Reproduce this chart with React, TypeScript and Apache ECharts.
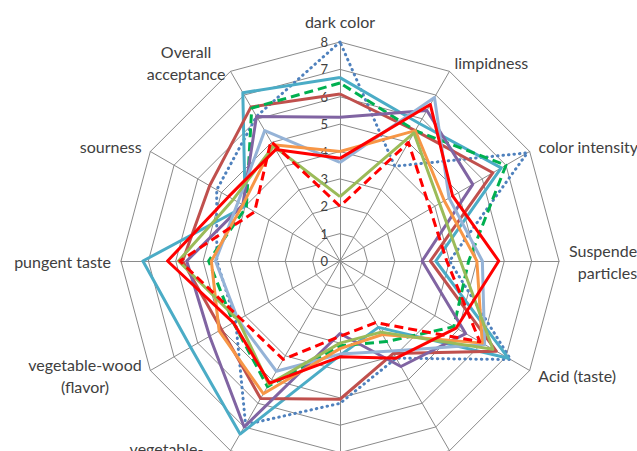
import React, { useEffect, useRef } from "react";
import * as echarts from "echarts";

// Axis names, clockwise from the top (the two bottom names are outside the picture)
const axisNames = [
  "dark color",
  "limpidness",
  "color intensity",
  "Suspended\nparticles",
  "Acid (taste)",
  "",
  "",
  "vegetable-",
  "vegetable-wood\n(flavor)",
  "pungent taste",
  "sourness",
  "Overall\nacceptance",
];

const tickLabels = ["0", "1", "2", "3", "4", "5", "6", "7", "8"];

// Series values, clockwise order matching axisNames
const sampleA = [8.0, 4.0, 7.9, 4.0, 7.2, 4.1, 5.2, 6.9, 4.4, 4.5, 5.2, 6.1]; // blue dotted
const sampleB = [6.7, 5.8, 6.8, 3.5, 7.1, 2.8, 3.45, 7.3, 6.3, 7.2, 4.0, 7.1]; // teal
const sampleC = [6.1, 5.5, 6.45, 3.3, 6.6, 3.9, 5.05, 5.8, 5.0, 5.75, 5.5, 6.5]; // brown
const sampleD = [6.5, 5.5, 7.0, 4.7, 4.8, 3.4, 3.1, 5.3, 4.5, 4.8, 3.95, 6.45]; // green dashed
const sampleE = [5.25, 6.35, 5.6, 3.0, 5.3, 4.45, 2.65, 7.0, 5.5, 5.6, 4.1, 6.1]; // purple
const sampleF = [3.6, 6.9, 4.6, 5.2, 6.1, 3.8, 3.4, 4.65, 4.3, 4.55, 4.3, 5.5]; // light blue
const sampleG = [4.0, 5.5, 4.4, 5.0, 6.0, 3.1, 3.2, 5.6, 5.1, 4.7, 4.1, 4.9]; // orange
const sampleH = [2.35, 5.4, 4.2, 4.4, 6.45, 3.0, 3.0, 5.2, 4.3, 5.9, 4.5, 4.85]; // olive
const sampleI = [3.75, 6.6, 4.75, 5.8, 4.9, 4.1, 3.5, 5.15, 4.5, 6.3, 4.7, 4.7]; // red
const sampleJ = [2.0, 5.0, 3.8, 3.9, 5.9, 2.6, 2.75, 4.15, 4.2, 5.85, 3.6, 5.05]; // red dashed

const seriesNames = ["S1", "S2", "S3", "S4", "S5", "S6", "S7", "S8", "S9", "S10"];
const seriesValues = [sampleA, sampleB, sampleC, sampleD, sampleE, sampleF, sampleG, sampleH, sampleI, sampleJ];
const seriesColors = ["#4F81BD", "#4BACC6", "#C0504D", "#00B050", "#8064A2", "#95B3D7", "#F79646", "#9BBB59", "#FF0000", "#FF0000"];
const seriesDash: (string | number[])[] = [[0.5, 5], "solid", "solid", [9, 5], "solid", "solid", "solid", "solid", "solid", [9, 5]];

const FONT = "Lato";
const TEXT = "#404040";

// ECharts places indicators counter-clockwise; reorder to get clockwise layout
const order = axisNames.map((_, i) => (12 - i) % 12);

export default function App() {
  const ref = useRef<HTMLDivElement>(null);
  useEffect(() => {
    if (!ref.current) return;
    const chart = echarts.init(ref.current, undefined, { renderer: "svg" });
    const indicator = order.map((k, i) => ({
      name: axisNames[k],
      min: 0,
      max: 8,
      ...(i === 0 ? { axisLabel: { show: true } } : {}),
    }));
    chart.setOption({
      animation: false,
      backgroundColor: "#ffffff",
      radar: {
        center: [340, 261],
        radius: 219,
        startAngle: 90,
        splitNumber: 8,
        shape: "polygon",
        indicator,
        axisName: {
          color: TEXT,
          fontFamily: FONT,
          fontSize: 16,
          formatter: (name: string) => {
            if (name === "vegetable-") return `{v|${name}}`;
            return name
              .split("\n")
              .map((l) => `{c|${l}}`)
              .join("\n");
          },
          rich: {
            c: { align: "center", color: TEXT, fontFamily: FONT, fontSize: 16, lineHeight: 22 },
            v: { color: TEXT, fontFamily: FONT, fontSize: 16, lineHeight: 22, padding: [0, 22, 22, 0] },
          },
        },
        nameGap: 10,
        axisLine: { lineStyle: { color: "#8a8a8a", width: 1 } },
        splitLine: { lineStyle: { color: "#8a8a8a", width: 1 } },
        splitArea: { show: false },
        axisTick: { show: false },
        axisLabel: {
          show: false,
          color: TEXT,
          fontFamily: FONT,
          fontSize: 13,
          margin: 12,
          formatter: (v: number) => tickLabels[Math.round(v)] ?? "",
        },
      },
      series: [
        {
          type: "radar",
          symbol: "none",
          data: seriesValues.map((vals, s) => ({
            name: seriesNames[s],
            value: order.map((k) => vals[k]),
            lineStyle: {
              color: seriesColors[s],
              width: 3,
              type: seriesDash[s],
              cap: s === 0 ? "round" : "butt",
            },
            itemStyle: { color: seriesColors[s] },
          })),
        },
      ],
    });
    return () => chart.dispose();
  }, []);
  return <div ref={ref} style={{ position: "absolute", left: 0, top: 0, width: 637, height: 451 }} />;
}
